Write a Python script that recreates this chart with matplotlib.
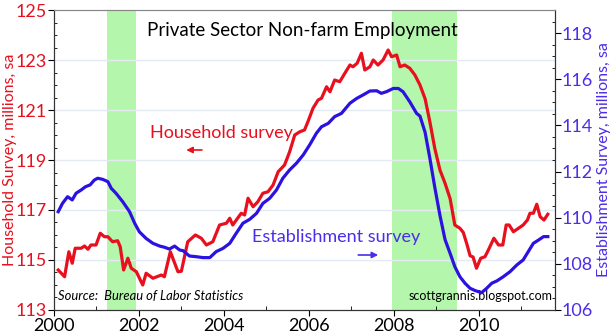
import numpy as np
import matplotlib
matplotlib.use("Agg")
import matplotlib.pyplot as plt
from matplotlib.ticker import MultipleLocator

# Household survey (left axis), millions, sa
hh_year = [2000.10, 2000.25, 2000.35, 2000.43, 2000.50, 2000.64, 2000.72, 2000.80, 2000.87, 2000.99,
           2001.09, 2001.19, 2001.27, 2001.38, 2001.50, 2001.56, 2001.64, 2001.74, 2001.82, 2001.94,
           2002.09, 2002.17, 2002.33, 2002.53, 2002.60, 2002.74, 2002.92, 2003.00, 2003.15, 2003.33,
           2003.47, 2003.59, 2003.74, 2003.90, 2004.06, 2004.14, 2004.21, 2004.41, 2004.49, 2004.57,
           2004.69, 2004.80, 2004.92, 2005.04, 2005.16, 2005.28, 2005.43, 2005.55, 2005.67, 2005.79,
           2005.90, 2005.98, 2006.10, 2006.22, 2006.30, 2006.42, 2006.50, 2006.61, 2006.73, 2006.85,
           2006.97, 2007.04, 2007.14, 2007.24, 2007.32, 2007.44, 2007.52, 2007.63, 2007.75, 2007.87,
           2007.95, 2008.07, 2008.15, 2008.26, 2008.38, 2008.50, 2008.62, 2008.74, 2008.85, 2008.97,
           2009.09, 2009.21, 2009.33, 2009.44, 2009.56, 2009.64, 2009.73, 2009.80, 2009.87, 2009.95,
           2010.05, 2010.15, 2010.23, 2010.36, 2010.47, 2010.57, 2010.65, 2010.72, 2010.82, 2010.94,
           2011.05, 2011.15, 2011.21, 2011.29, 2011.37, 2011.45, 2011.54, 2011.63]
hh_val = [114.60, 114.33, 115.33, 114.87, 115.47, 115.47, 115.56, 115.43, 115.60, 115.60,
          116.07, 115.93, 115.93, 115.73, 115.77, 115.53, 114.60, 115.07, 114.67, 114.53,
          114.00, 114.47, 114.27, 114.40, 114.33, 115.33, 114.53, 114.55, 115.73, 116.00,
          115.87, 115.60, 115.73, 116.40, 116.47, 116.67, 116.40, 116.87, 116.80, 117.47,
          117.13, 117.33, 117.67, 117.73, 118.00, 118.53, 118.80, 119.33, 120.00, 120.13,
          120.20, 120.53, 121.07, 121.40, 121.47, 121.93, 121.73, 122.20, 122.13, 122.47,
          122.80, 122.73, 122.87, 123.27, 122.60, 122.73, 123.00, 122.80, 123.00, 123.40,
          123.13, 123.20, 122.73, 122.80, 122.67, 122.40, 122.00, 121.45, 120.55, 119.45,
          118.60, 118.07, 117.45, 116.40, 116.27, 116.10, 115.60, 115.17, 115.12, 114.67,
          115.07, 115.13, 115.40, 115.87, 115.60, 115.60, 116.40, 116.40, 116.13, 116.27,
          116.40, 116.60, 116.87, 116.87, 117.23, 116.73, 116.60, 116.83]

# Establishment survey (right axis), millions, sa
es_year = [2000.10, 2000.20, 2000.32, 2000.43, 2000.52, 2000.64, 2000.74, 2000.85, 2000.95, 2001.03,
           2001.15, 2001.27, 2001.35, 2001.46, 2001.62, 2001.78, 2001.90, 2002.01, 2002.17, 2002.33,
           2002.49, 2002.60, 2002.72, 2002.84, 2002.96, 2003.04, 2003.19, 2003.35, 2003.51, 2003.67,
           2003.82, 2003.98, 2004.14, 2004.29, 2004.45, 2004.61, 2004.77, 2004.92, 2005.08, 2005.24,
           2005.39, 2005.55, 2005.71, 2005.87, 2006.02, 2006.18, 2006.30, 2006.46, 2006.61, 2006.77,
           2006.97, 2007.13, 2007.28, 2007.44, 2007.60, 2007.71, 2007.83, 2007.99, 2008.11, 2008.22,
           2008.38, 2008.54, 2008.62, 2008.74, 2008.85, 2008.97, 2009.09, 2009.21, 2009.33, 2009.44,
           2009.56, 2009.68, 2009.80, 2009.92, 2010.07, 2010.19, 2010.31, 2010.43, 2010.58, 2010.74,
           2010.90, 2011.05, 2011.17, 2011.29, 2011.41, 2011.53, 2011.63]
es_val = [110.26, 110.62, 110.91, 110.77, 111.06, 111.20, 111.34, 111.42, 111.63, 111.71,
          111.66, 111.56, 111.27, 111.06, 110.69, 110.26, 109.76, 109.39, 109.10, 108.89,
          108.77, 108.72, 108.64, 108.77, 108.60, 108.57, 108.34, 108.31, 108.27, 108.27,
          108.53, 108.67, 108.89, 109.32, 109.76, 109.93, 110.19, 110.62, 110.84, 111.20,
          111.71, 112.07, 112.36, 112.72, 113.15, 113.66, 113.94, 114.09, 114.38, 114.52,
          114.96, 115.17, 115.32, 115.49, 115.50, 115.39, 115.46, 115.60, 115.60, 115.46,
          115.02, 114.52, 114.40, 113.70, 112.60, 111.30, 110.10, 109.05, 108.45, 107.88,
          107.44, 107.16, 106.94, 106.84, 106.75, 106.94, 107.16, 107.26, 107.44, 107.66,
          107.95, 108.17, 108.53, 108.89, 109.03, 109.18, 109.18]

# recessions (start, end)
recessions = [(2001.25, 2001.92), (2007.95, 2009.5)]

left_ticks = [113, 115, 117, 119, 121, 123, 125]
right_ticks = [106, 108, 110, 112, 114, 116, 118]

red = '#e8101e'
blue = '#2c12e0'
tick_blue = '#4a2ee8'

fig = plt.figure(figsize=(6.12, 3.36), dpi=100)
ax = fig.add_axes([0.0882, 0.0774, 0.8187, 0.8928])
ax2 = ax.twinx()

for a, b in recessions:
    ax.axvspan(a, b, color='#b4f7ac', lw=0, zorder=0)

for v in left_ticks[1:-1]:
    ax.axhline(v, color='#e3eaf3', lw=1, zorder=0.5)

ax.plot(hh_year, hh_val, color=red, lw=2.3, zorder=3)
ax2.plot(es_year, es_val, color=blue, lw=2.3, zorder=3)

ax.set_xlim(2000, 2011.8)
ax.set_ylim(113, 125)
ax2.set_ylim(106, 119)

ax.xaxis.set_major_locator(MultipleLocator(2))
ax.xaxis.set_minor_locator(MultipleLocator(1))
ax.set_yticks(left_ticks)
ax.yaxis.set_minor_locator(MultipleLocator(0.5))
ax2.set_yticks(right_ticks)
ax2.yaxis.set_minor_locator(MultipleLocator(0.5))

font = 'Lato'
ax.tick_params(axis='x', which='major', direction='out', length=4, labelsize=13, pad=2)
ax.tick_params(axis='x', which='minor', direction='in', length=3)
ax.tick_params(axis='y', which='major', direction='out', length=4, labelsize=13,
               labelcolor=red, pad=1)
ax.tick_params(axis='y', which='minor', direction='in', length=2)
ax2.tick_params(axis='y', which='major', direction='out', length=4, labelsize=13,
                labelcolor=tick_blue, pad=1)
ax2.tick_params(axis='y', which='minor', direction='in', length=2)
for lab in ax.get_xticklabels() + ax.get_yticklabels() + ax2.get_yticklabels():
    lab.set_fontfamily(font)

for s in ['left', 'right', 'bottom']:
    ax.spines[s].set_color('#333333')
    ax2.spines[s].set_color('#333333')
ax.spines['top'].set_color('#888888')
ax2.spines['top'].set_color('#888888')

ax.set_ylabel('Household Survey, millions, sa', color=red, fontsize=11.5, family=font)
ax.yaxis.set_label_coords(-0.074, 0.5)
ax2.set_ylabel('Establishment Survey, millions, sa', color=tick_blue, fontsize=11.5,
               family=font, labelpad=3)

ax.text(2002.2, 124.2, 'Private Sector Non-farm Employment', fontsize=13.5,
        family=font, va='center', ha='left', color='black', zorder=5)

ax.text(2003.95, 120.1, 'Household survey', color=red, fontsize=13,
        family=font, ha='center', va='center', zorder=5)
ax.annotate('', xy=(2003.05, 119.4), xytext=(2003.55, 119.4),
            arrowprops=dict(arrowstyle='-|>', color=red, lw=1.2,
                            mutation_scale=9), zorder=5)

ax.text(2006.65, 115.9, 'Establishment survey', color=tick_blue, fontsize=13,
        family=font, ha='center', va='center', zorder=5)
ax.annotate('', xy=(2007.7, 115.2), xytext=(2007.1, 115.2),
            arrowprops=dict(arrowstyle='-|>', color=tick_blue, lw=1.2,
                            mutation_scale=9), zorder=5)

ax.text(2000.1, 113.3, 'Source:  Bureau of Labor Statistics', fontsize=9.4,
        family=font, style='italic', ha='left', va='bottom', zorder=5)
ax.text(2011.73, 113.3, 'scottgrannis.blogspot.com', fontsize=9,
        family=font, ha='right', va='bottom', zorder=5)

ax.set_zorder(ax2.get_zorder() - 1)
ax2.patch.set_visible(False)
ax.patch.set_visible(True)
ax.patch.set_facecolor('white')

fig.savefig('out.png', dpi=100)
